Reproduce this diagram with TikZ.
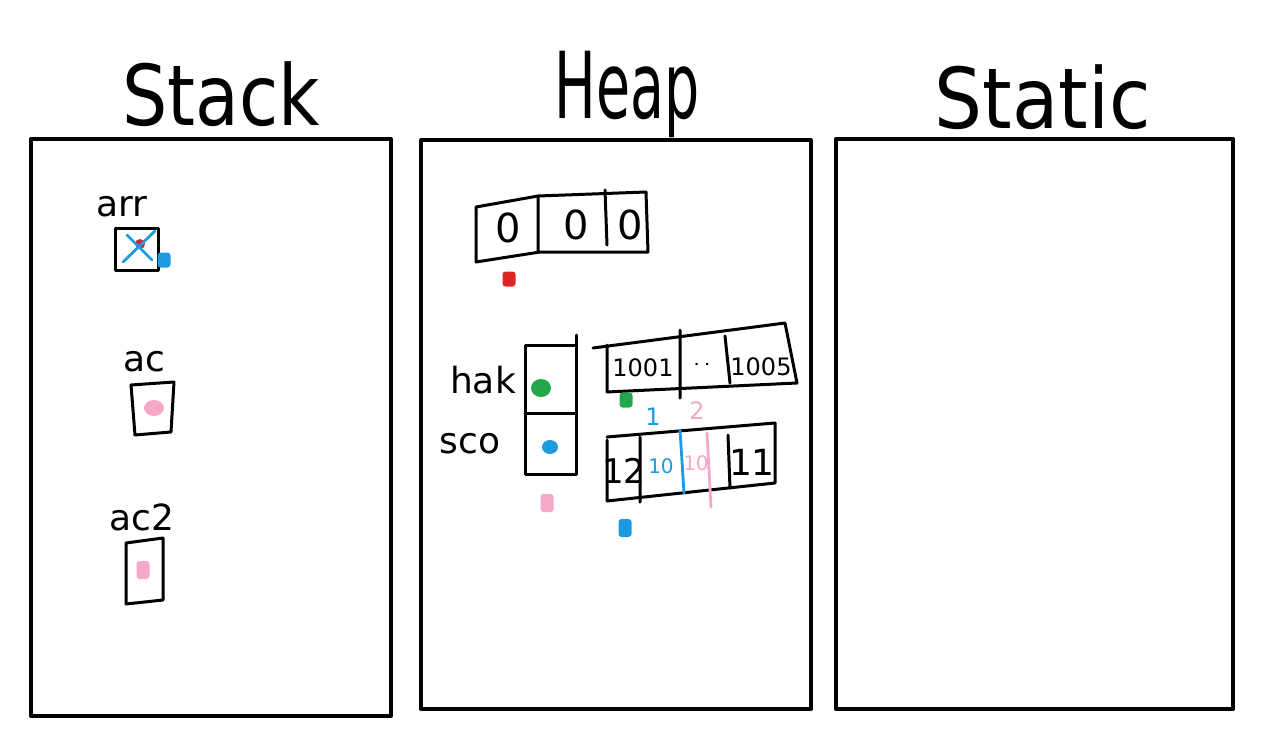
\documentclass[tikz,border=0pt]{standalone}
\usepackage{fontspec}
\setmainfont{DejaVu Sans}
\usetikzlibrary{shapes.geometric}
\definecolor{myblue}{HTML}{1E9BE0}
\definecolor{mypink}{HTML}{F5A8C8}
\definecolor{mygreen}{HTML}{22A84A}
\definecolor{myred}{HTML}{E02424}
\begin{document}
\begin{tikzpicture}[x=0.5pt,y=-0.5pt, line join=round, line cap=round,
 panel/.style={draw=black,line width=2pt,inner sep=0pt},
 ink/.style={draw=black,line width=1.5pt},
 title/.style={font=\fontsize{42}{42}\selectfont,inner sep=0pt},
 lbl/.style={font=\fontsize{18}{18}\selectfont,inner sep=0pt},
 cell/.style={font=\fontsize{12}{12}\selectfont,inner sep=0pt},
 sq/.style={rounded corners=1.5pt,minimum width=6.5pt,minimum height=7.5pt,inner sep=0pt},
 blob/.style={ellipse,minimum width=10pt,minimum height=8pt,inner sep=0pt}
]
\useasboundingbox[fill=white] (0,0) rectangle (1266,750);
% panels
\node[panel,minimum width=180pt,minimum height=288.5pt] (stack) at (211,427.5) {};
\node[panel,minimum width=195pt,minimum height=284.5pt] (heap) at (616,424.5) {};
\node[panel,minimum width=198.5pt,minimum height=285pt] (static) at (1034.5,424) {};
% titles
\node[title,xscale=0.85] (tstack) at (221,94) {Stack};
\node[title,xscale=0.66,yscale=1.1] (theap) at (627,94) {Heap};
\node[title,xscale=0.9] (tstatic) at (1043,97) {Static};
% stack: arr
\node[lbl] (larr) at (122,207) {arr};
\node[ink,minimum width=21.5pt,minimum height=21pt,inner sep=0pt] (barr) at (136.5,249) {};
\fill[myred] (140,244) circle (5);
\draw[myblue,line width=1.4pt] (123,262) -- (155,231) (127,235) -- (152,260);
\node[sq,fill=myblue] (parr) at (164,260) {};
% stack: ac
\node[lbl] (lac) at (144,362) {ac};
\draw[ink] (131,385) -- (174,382) -- (171,432) -- (135,435) -- cycle;
\node[blob,fill=mypink] (pac) at (154,408) {};
% stack: ac2
\node[lbl] (lac2) at (142,517) {ac2};
\draw[ink] (126,543) -- (163,538) -- (163,600) -- (126,604) -- cycle;
\node[sq,fill=mypink,minimum height=9pt] (pac2) at (143,570) {};
% heap: array of zeros
\draw[ink] (476,207) -- (538,196) -- (646,192) -- (648,252) -- (540,252) -- (476,262) -- cycle;
\draw[ink] (538,196) -- (538,252) (605,190) -- (607,245);
\node[cell,font=\fontsize{20}{20}\selectfont] (z1) at (508,228) {0};
\node[cell,font=\fontsize{20}{20}\selectfont] (z2) at (576,225) {0};
\node[cell,font=\fontsize{20}{20}\selectfont] (z3) at (630,225) {0};
\node[sq,fill=myred] (pz) at (509,279) {};
% heap: hak / sco
\draw[ink] (525,345) -- (576,345) -- (576,474) -- (525,474) -- cycle;
\draw[ink] (525,413) -- (576,413) (576,335) -- (576,345);
\node[lbl] (lhak) at (483,380) {hak};
\node[lbl] (lsco) at (470,444) {sco};
\node[blob,fill=mygreen,minimum width=10pt,minimum height=9pt] (ghak) at (541,388) {};
\node[blob,fill=myblue,minimum width=8pt,minimum height=7pt] (bsco) at (550,447) {};
\node[sq,fill=mypink,minimum height=9pt] (pobj) at (547,503) {};
% heap: 1001 array
\draw[ink] (593,348) -- (785,323) -- (797,383) -- (607,392) (607,345) -- (607,392);
\draw[ink] (680,330) -- (680,398) (725,336) -- (730,383);
\node[cell] (c1001) at (643,368) {1001};
\node[cell] (cdots) at (702,365) {$\cdot\,\cdot$};
\node[cell] (c1005) at (761,367) {1005};
\node[sq,fill=mygreen] (g1) at (626,400) {};
\node[cell,text=myblue] (n1) at (653,417) {1};
\node[cell,text=mypink] (n2) at (697,411) {2};
% heap: second array
\draw[ink] (607,437) -- (775,423) -- (775,483) -- (607,501) (607,440) -- (607,501);
\draw[ink] (640,437) -- (640,502) (728,435) -- (730,488);
\draw[myblue,line width=1.4pt] (680,430) -- (684,493);
\draw[mypink,line width=1.4pt] (707,433) -- (711,507);
\node[cell,font=\fontsize{17}{17}\selectfont] (c12) at (624,471) {12};
\node[cell,font=\fontsize{10}{10}\selectfont,text=myblue] (c10a) at (661,466) {10};
\node[cell,font=\fontsize{10}{10}\selectfont,text=mypink] (c10b) at (696,463) {10};
\node[cell,font=\fontsize{18}{18}\selectfont] (c11) at (752,462) {11};
\node[sq,fill=myblue,minimum height=9pt] (b2) at (625,528) {};
\end{tikzpicture}
\end{document}
